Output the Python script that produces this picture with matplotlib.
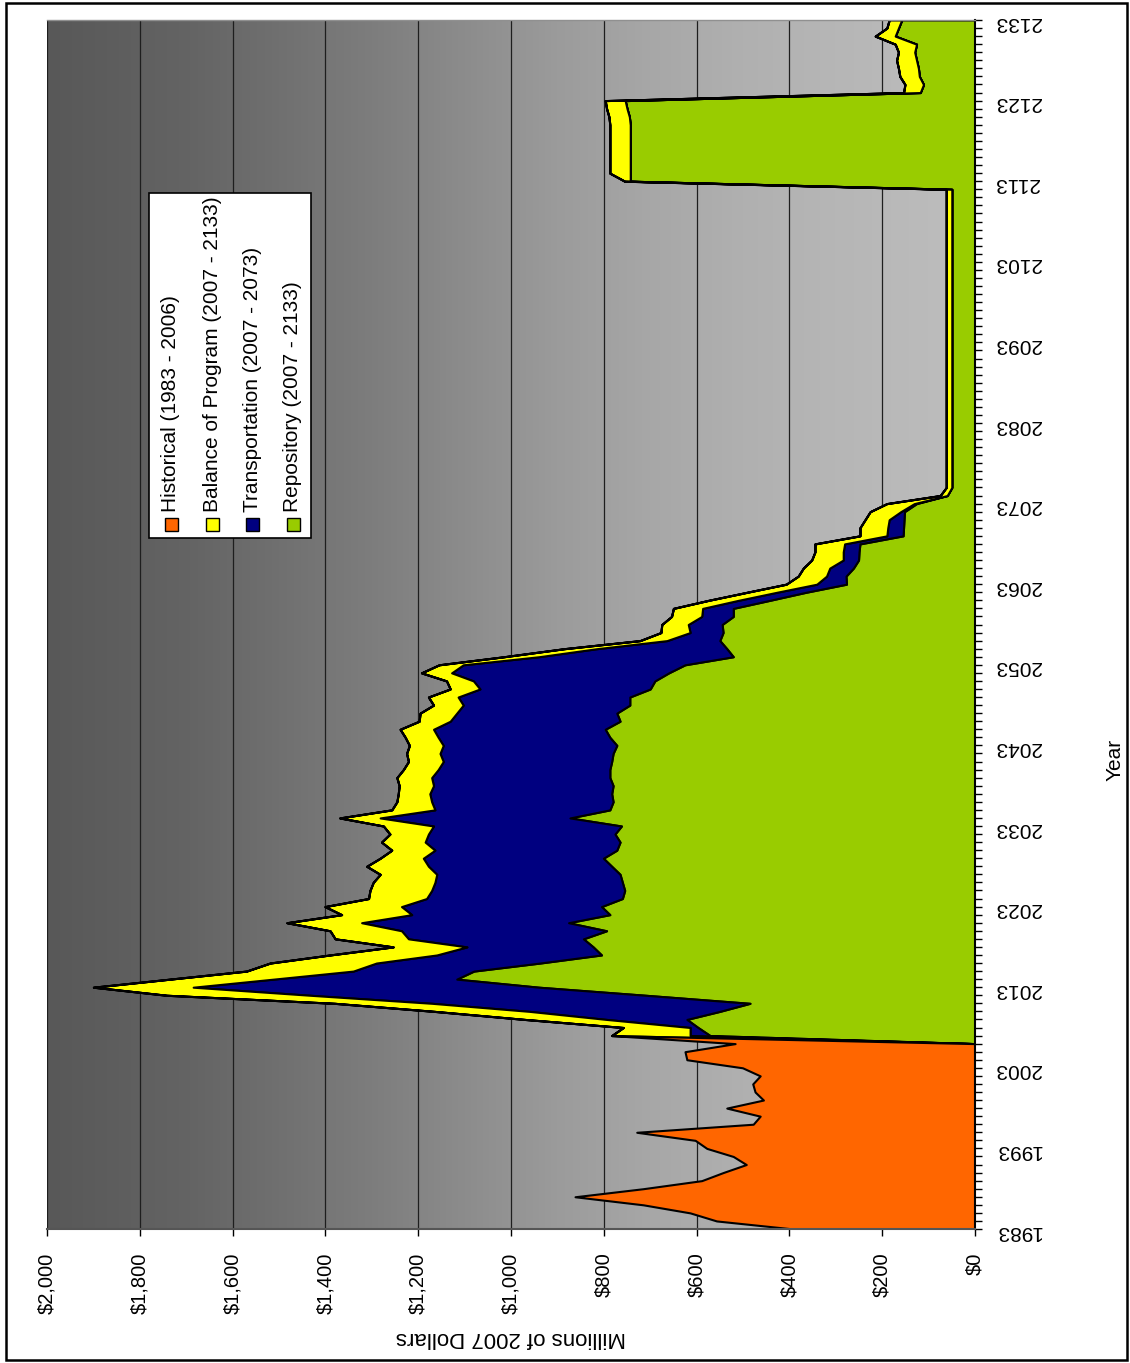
import numpy as np
import matplotlib
matplotlib.use('Agg')
import matplotlib.pyplot as plt
from matplotlib.patches import Rectangle

plt.rcParams['font.family'] = ['Liberation Sans', 'DejaVu Sans']

# ---------------- data ----------------
first_year = 1983
last_year = 2133
program_start = 2007

historical = [391, 557, 614, 715, 862, 715, 589, 543, 493, 521, 578, 603,
              729, 478, 463, 535, 456, 474, 479, 463, 501, 621, 625, 517]  # 1983-2006

repository = [571, 597, 621, 550, 485, 710, 940, 1117, 1080, 937, 805, 823,
              844, 794, 876, 787, 805, 760,                                  # 2007-2024
              755, 760, 765, 783, 801, 772, 765, 776, 762, 873, 787, 780,
              783, 780, 787, 787, 783, 780, 772, 787, 797, 765, 772, 744,
              744, 700, 690, 660, 625,                                        # 2025-2053
              521, 535, 550, 543, 545, 521, 521, 442, 364, 277, 278, 262,
              251, 250, 248, 155, 154, 153, 152, 126, 60,                     # 2054-2074
              50, 50, 50, 50, 50, 50, 50, 50, 50, 50, 50, 50, 50, 50, 50, 50,
              50, 50, 50, 50, 50, 50, 50, 50, 50, 50, 50, 50, 50, 50, 50, 50,
              50, 50, 50, 50, 50, 50,                                         # 2075-2112
              743, 743, 743, 743, 743, 743, 743, 743, 745, 750, 754,          # 2113-2123
              118, 111, 120, 122, 126, 130, 126, 172, 165, 158]               # 2124-2133

transportation = [43, 17, 173, 410, 685, 723, 745, 395, 260, 353, 355, 272,
                  377, 442, 446, 427, 431, 422,                               # 2007-2024
                  416, 404, 395, 395, 388, 392, 420, 402, 405, 409, 377, 391,
                  392, 387, 384, 370, 363, 373, 374, 370, 370, 366, 345, 359,
                  370, 367, 391, 468, 478,                                    # 2025-2053
                  419, 280, 114, 71, 73, 68, 66, 68, 63, 64, 42, 51,
                  33, 34, 33, 35, 34, 32, 8, 5]                               # 2054-2073

balance = [169, 144, 176, 205, 210, 309, 215, 223, 230, 229, 230, 159,
           158, 154, 161, 151, 165, 125,                                      # 2007-2024
           133, 133, 122, 133, 93, 93, 94, 83, 108, 87, 93, 75,
           68, 74, 75, 75, 75, 72, 73, 71, 72, 67, 79, 64,
           64, 64, 58, 65, 52,                                                # 2025-2053
           75, 70, 58, 63, 57, 65, 63, 64, 64, 66, 61, 57,
           68, 61, 64, 58, 60, 52, 66, 59, 15,                                # 2054-2074
           12, 12, 12, 12, 12, 12, 12, 12, 12, 12, 12, 12, 12, 12, 12, 12,
           12, 12, 12, 12, 12, 12, 12, 12, 12, 12, 12, 12, 12, 12, 12, 12,
           12, 12, 12, 12, 12, 12,                                            # 2075-2112
           12, 44, 44, 44, 44, 44, 44, 44, 44, 44, 43,                        # 2113-2123
           36, 40, 42, 43, 43, 35, 46, 43, 25, 27]                            # 2124-2133

series_names = ['Historical (1983 - 2006)', 'Balance of Program (2007 - 2133)',
                'Transportation (2007 - 2073)', 'Repository (2007 - 2133)']
series_colors = ['#FF6600', '#FFFF00', '#000080', '#99CC00']

value_ticks = [0, 200, 400, 600, 800, 1000, 1200, 1400, 1600, 1800, 2000]
value_tick_labels = ['$0', '$200', '$400', '$600', '$800', '$1,000', '$1,200',
                     '$1,400', '$1,600', '$1,800', '$2,000']
year_ticks = [1983, 1993, 2003, 2013, 2023, 2033, 2043, 2053, 2063, 2073,
              2083, 2093, 2103, 2113, 2123, 2133]
value_axis_title = 'Millions of 2007 Dollars'
year_axis_title = 'Year'

# ---------------- build full series ----------------
years = np.arange(first_year, last_year + 1)
n = len(years)
i0 = program_start - first_year
hist_full = np.zeros(n); hist_full[:len(historical)] = historical
repo_full = np.zeros(n); repo_full[i0:i0 + len(repository)] = repository
trans_full = np.zeros(n); trans_full[i0:i0 + len(transportation)] = transportation
bal_full = np.zeros(n); bal_full[i0:i0 + len(balance)] = balance

# ---------------- figure ----------------
W, H = 1130, 1363
fig = plt.figure(figsize=(W / 100, H / 100), dpi=100)
fig.patch.set_facecolor('white')


def fx(px):
    return px / W


def fy(py):
    return 1 - py / H


ax_l, ax_r, ax_t, ax_b = 47, 975, 20, 1229
ax = fig.add_axes([fx(ax_l), fy(ax_b), (ax_r - ax_l) / W, (ax_b - ax_t) / H])

# gradient background
t_stops = [0, .154, .25, .35, .45, .55, .65, .75, .85, .95, 1]
g_stops = [88, 100, 112, 125, 140, 155, 167, 176, 182, 187, 189]
tt = np.linspace(0, 1, 600)
gg = np.interp(tt, t_stops, g_stops) / 255.0
img = np.stack([gg, gg, gg], axis=-1)[None, :, :]
ax.imshow(img, extent=(0, 1, 0, 1), transform=ax.transAxes, aspect='auto',
          zorder=0, interpolation='bilinear')

# gridlines
for v in value_ticks[1:]:
    ax.axvline(v, color='#1e1e1e', lw=0.9, zorder=1)

# stacked areas (bottom to top: repository, transportation, balance, historical)
stack = [(repo_full, series_colors[3]), (trans_full, series_colors[2]),
         (bal_full, series_colors[1]), (hist_full, series_colors[0])]
base = np.zeros(n)
for vals, col in stack:
    top = base + vals
    ax.fill_betweenx(years, base, top, facecolor=col, edgecolor='black',
                     linewidth=1.5, zorder=3)
    base = top

ax.set_xlim(2000, 0)
ax.set_ylim(first_year, last_year)

# value axis (bottom)
ax.set_xticks(value_ticks)
ax.set_xticklabels(value_tick_labels, rotation=90, fontsize=14.5)
ax.tick_params(axis='x', direction='out', length=5, width=1, color='black',
               pad=12)

# year axis (right)
ax.yaxis.tick_right()
ax.set_yticks(year_ticks)
ax.set_yticklabels([str(y) for y in year_ticks], rotation=180, fontsize=15)
ax.set_yticks(years, minor=True)
ax.tick_params(axis='y', which='both', direction='out', length=5, width=1,
               color='black', pad=9)

for s in ['left']:
    ax.spines[s].set_visible(False)
ax.spines['top'].set_color('#909090')
ax.spines['top'].set_linewidth(1)
ax.spines['bottom'].set_color('#555555')
ax.spines['bottom'].set_linewidth(1.5)
ax.spines['right'].set_color('black')
ax.spines['right'].set_linewidth(1.5)
for s in ax.spines.values():
    s.set_zorder(5)

# axis titles
fig.text(fx(511), fy(1337), value_axis_title, rotation=180, ha='center',
         va='center', fontsize=16)
fig.text(fx(1115), fy(760), year_axis_title, rotation=90, ha='center',
         va='center', fontsize=15)

# legend (drawn rotated like the rest of the chart)
fig.patches.append(Rectangle((fx(149), fy(538)), (311 - 149) / W, (538 - 193) / H,
                             transform=fig.transFigure, facecolor='white',
                             edgecolor='black', linewidth=1.2, zorder=10))
leg_x = [171, 212, 252, 293]
for name, col, xc in zip(series_names, series_colors, leg_x):
    fig.patches.append(Rectangle((fx(xc - 6.5), fy(530.5)), 13 / W, 13 / H,
                                 transform=fig.transFigure, facecolor=col,
                                 edgecolor='black', linewidth=1, zorder=11))
    fig.text(fx(xc), fy(512), name, rotation=90, rotation_mode='anchor',
             ha='left', va='center', fontsize=15, zorder=12)

# chart border
fig.patches.append(Rectangle((fx(6), fy(1360)), (1127 - 6) / W, (1360 - 3) / H,
                             transform=fig.transFigure, facecolor='none',
                             edgecolor='black', linewidth=1.8, zorder=20))

fig.savefig('out.png', dpi=100, facecolor='white')
